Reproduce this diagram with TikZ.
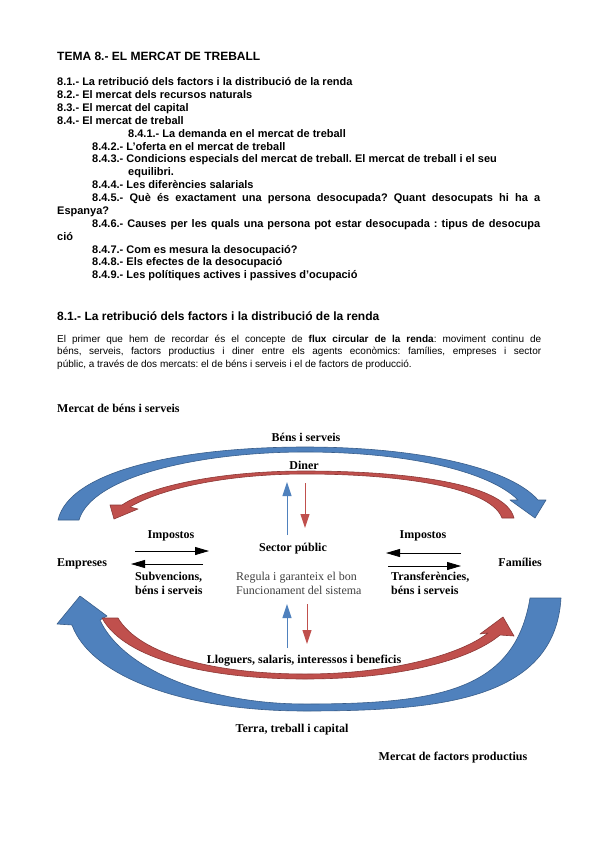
\documentclass[tikz,border=0pt]{standalone}
\usepackage{fontspec}
\setmainfont{Liberation Serif}
\setsansfont{Liberation Sans}
\usetikzlibrary{arrows.meta}
\definecolor{cBlue}{RGB}{79,129,189}
\definecolor{cBlueDk}{RGB}{56,93,138}
\definecolor{cRed}{RGB}{192,80,77}
\definecolor{cRedDk}{RGB}{140,56,54}
\definecolor{cNote}{RGB}{64,64,64}
\frenchspacing
\tikzset{
  basetxt/.style={inner sep=0pt,anchor=base west},
  titletxt/.style={basetxt,font=\sffamily\bfseries\fontsize{12}{14}\selectfont},
  itemtxt/.style={basetxt,font=\sffamily\bfseries\fontsize{11}{13}\selectfont},
  headtxt/.style={basetxt,font=\sffamily\bfseries\fontsize{12}{14}\selectfont},
  bodytxt/.style={basetxt,font=\sffamily\fontsize{10}{12}\selectfont},
  lbl/.style={inner sep=0pt,anchor=base,font=\bfseries\fontsize{12}{14}\selectfont},
  lblw/.style={lbl,anchor=base west},
  notetxt/.style={basetxt,font=\fontsize{12}{14}\selectfont,text=cNote},
  bluearc/.style={fill=cBlue,draw=cBlueDk,line width=0.6pt,line join=round},
  redarc/.style={fill=cRed,draw=cRedDk,line width=0.6pt,line join=round},
  bluearr/.style={-{Triangle[length=14pt,width=9pt]},line width=1pt,color=cBlue},
  redarr/.style={-{Triangle[length=14pt,width=9pt]},line width=1pt,color=cRed},
  blkarr/.style={-{Triangle[length=14pt,width=8pt]},line width=0.8pt,color=black}
}

\begin{document}
\begin{tikzpicture}[x=1pt,y=-1pt]
  \useasboundingbox[fill=white] (0,0) rectangle (599,848);

  % index
  \node[titletxt] (title) at (57,60.5) {TEMA 8.- EL MERCAT DE TREBALL};
  \node[itemtxt] (i81) at (57,85.7) {8.1.- La retribució dels factors i la distribució de la renda};
  \node[itemtxt] (i82) at (57,98.6) {8.2.- El mercat dels recursos naturals};
  \node[itemtxt] (i83) at (57,111.4) {8.3.- El mercat del capital};
  \node[itemtxt] (i84) at (57,124.3) {8.4.- El mercat de treball};
  \node[itemtxt] (i841) at (128,137.2) {8.4.1.- La demanda en el mercat de treball};
  \node[itemtxt] (i842) at (92,150.1) {8.4.2.- L’oferta en el mercat de treball};
  \node[itemtxt] (i843) at (92,162.9) {8.4.3.- Condicions especials del mercat de treball. El mercat de treball i el seu};
  \node[itemtxt] (i843b) at (128,175.8) {equilibri.};
  \node[itemtxt] (i844) at (92,188.7) {8.4.4.- Les diferències salarials};
  \node[itemtxt] (i845) at (92,201.5)
      {\makebox[448pt][s]{8.4.5.- Què és exactament una persona desocupada? Quant desocupats hi ha a}};
  \node[itemtxt] (i845b) at (57,214.4) {Espanya?};
  \node[itemtxt] (i846) at (92,227.3)
      {\makebox[448pt][s]{8.4.6.- Causes per les quals una persona pot estar desocupada : tipus de desocupa}};
  \node[itemtxt] (i846b) at (57,240.1) {ció};
  \node[itemtxt] (i847) at (92,253.0) {8.4.7.- Com es mesura la desocupació?};
  \node[itemtxt] (i848) at (92,265.9) {8.4.8.- Els efectes de la desocupació};
  \node[itemtxt] (i849) at (92,278.8) {8.4.9.- Les polítiques actives i passives d’ocupació};

  % section 8.1
  \node[headtxt] (sec) at (57,320) {8.1.- La retribució dels factors i la distribució de la renda};
  \node[bodytxt] (par1) at (57,342)
      {\makebox[484pt][s]{El primer que hem de recordar és el concepte de \textbf{flux circular de la renda}: moviment continu de}};
  \node[bodytxt] (par2) at (57,354.5)
      {\makebox[484pt][s]{béns, serveis, factors productius i diner entre els agents econòmics: famílies, empreses i sector}};
  \node[bodytxt] (par3) at (57,367) {públic, a través de dos mercats: el de béns i serveis i el de factors de producció.};

  % big arcs
  \draw[bluearc] (58,520) .. controls (70,468) and (190,447) .. (305,447)
      .. controls (420,447) and (510,468) .. (538,500) -- (546,500) -- (535,518) -- (510,500) -- (518,500)
      .. controls (490,472) and (410,452) .. (305,452)
      .. controls (200,452) and (92,476) .. (79,520) -- cycle;
  \draw[redarc] (514,518) .. controls (505,482) and (400,471) .. (305,471)
      .. controls (220,471) and (150,486) .. (122,505) -- (110,505) -- (114,519) -- (138,509) -- (130,507)
      .. controls (160,489) and (225,474) .. (305,474)
      .. controls (395,474) and (490,486) .. (502,518) -- cycle;
  \draw[bluearc] (561,598) .. controls (555,700) and (440,711) .. (305,711)
      .. controls (180,711) and (90,675) .. (72,625) -- (57,624) -- (80,596) -- (107,616) -- (100,620)
      .. controls (120,665) and (200,704) .. (305,704)
      .. controls (440,704) and (515,690) .. (530,598) -- cycle;
  \draw[redarc] (102,618) .. controls (125,660) and (210,679) .. (305,679)
      .. controls (400,679) and (470,660) .. (500,635) -- (514,636) -- (503,617) -- (480,634) -- (488,633)
      .. controls (460,655) and (390,674) .. (305,674)
      .. controls (215,674) and (140,655) .. (118,618) -- cycle;

  % labels
  \node[lblw] (mbs) at (57,412) {Mercat de béns i serveis};
  \node[lbl] (bens) at (306,441) {Béns i serveis};
  \node[lbl] (diner) at (304,469) {Diner};
  \node[lbl] (impE) at (171,538) {Impostos};
  \node[lbl] (impF) at (423,538) {Impostos};
  \node[lbl] (sp) at (293,551.5) {Sector públic};
  \node[lblw] (emp) at (57,566) {Empreses};
  \node[lbl,anchor=base east] (fam) at (542,566) {Famílies};
  \node[lblw] (subv1) at (135,580.5) {Subvencions,};
  \node[lblw] (subv2) at (135,594) {béns i serveis};
  \node[lblw] (trf1) at (391,580.5) {Transferències,};
  \node[lblw] (trf2) at (391,594) {béns i serveis};
  \node[notetxt] (reg1) at (236,580.5) {Regula i garanteix el bon};
  \node[notetxt] (reg2) at (236,594) {Funcionament del sistema};
  \node[lbl] (llog) at (304,663) {Lloguers, salaris, interessos i beneficis};
  \node[lbl] (terra) at (292,732.5) {Terra, treball i capital};
  \node[lbl] (mfp) at (453,760) {Mercat de factors productius};

  % flows with the public sector
  \coordinate (upA) at (287,535);
  \coordinate (upB) at (287,482);
  \coordinate (dnA) at (305,483);
  \coordinate (dnB) at (305,528);
  \coordinate (upC) at (287,648);
  \coordinate (upD) at (287,604);
  \coordinate (dnC) at (307,604);
  \coordinate (dnD) at (307,644);
  \draw[bluearr] (upA) -- (upB);
  \draw[redarr] (dnA) -- (dnB);
  \draw[bluearr] (upC) -- (upD);
  \draw[redarr] (dnC) -- (dnD);

  \coordinate (e1) at (135,551);
  \coordinate (e2) at (209,551);
  \coordinate (e3) at (203,564);
  \coordinate (e4) at (131,564);
  \coordinate (f1) at (461,553);
  \coordinate (f2) at (386,553);
  \coordinate (f3) at (388,566);
  \coordinate (f4) at (461,566);
  \draw[blkarr] (e1) -- (e2);
  \draw[blkarr] (e3) -- (e4);
  \draw[blkarr] (f1) -- (f2);
  \draw[blkarr] (f3) -- (f4);
\end{tikzpicture}
\end{document}
